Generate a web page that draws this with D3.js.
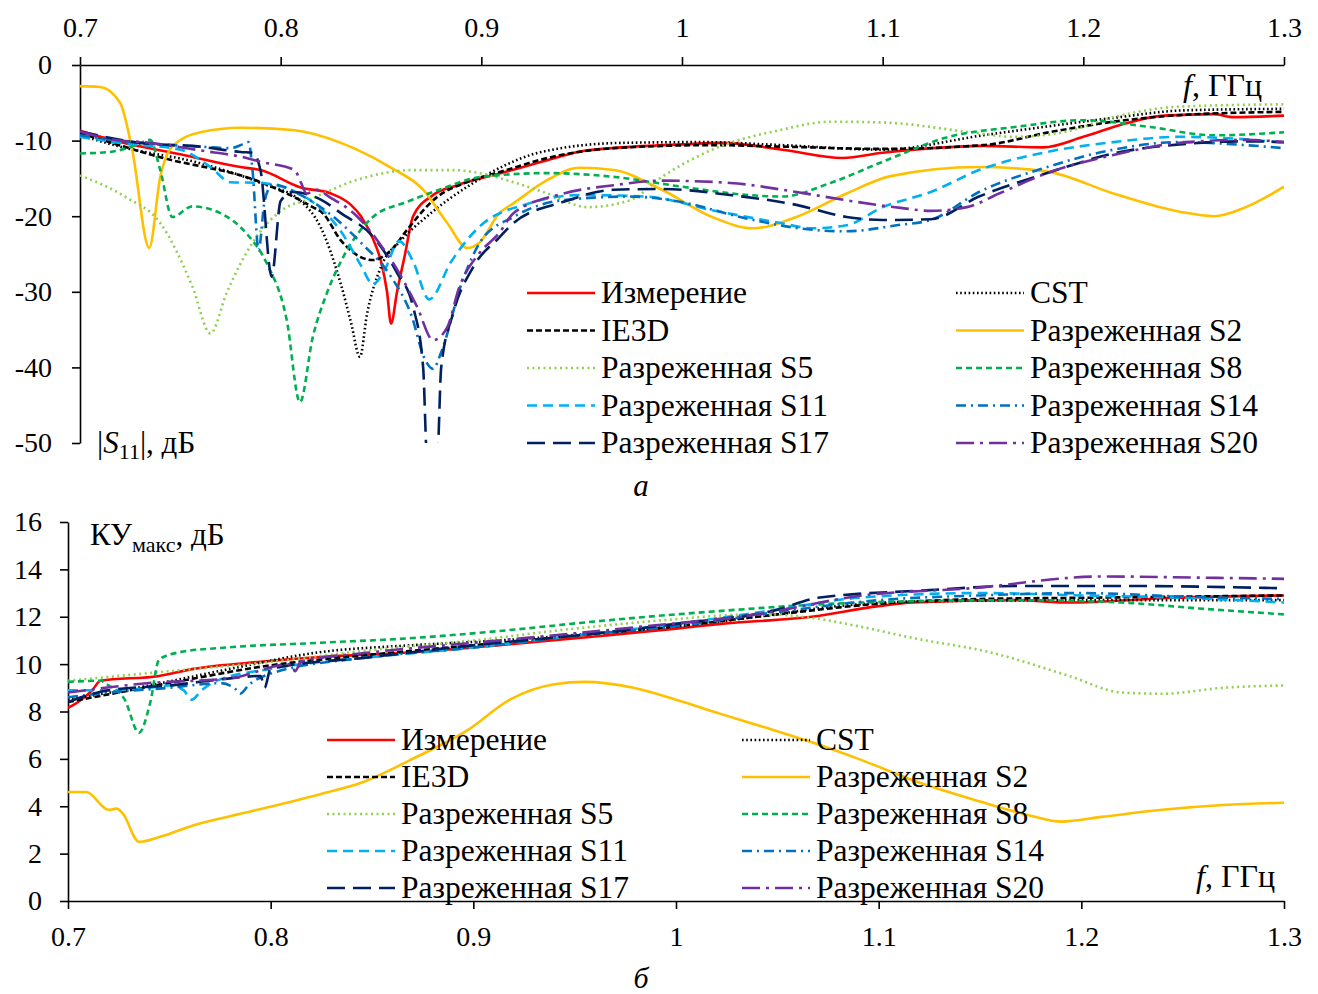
<!DOCTYPE html>
<html>
<head>
<meta charset="utf-8">
<script src="https://cdn.jsdelivr.net/npm/d3@7"></script>
<style>
  body { margin: 0; background: #fff; }
  text { font-family: "Liberation Serif", "Times New Roman", serif; fill: #000; }
</style>
</head>
<body>
<svg id="chart" width="1318" height="994"></svg>
<script>
// frequency ticks and value ticks
var freqTicks = [0.7, 0.8, 0.9, 1.0, 1.1, 1.2, 1.3];
var s11Ticks = [0, -10, -20, -30, -40, -50];
var gainTicks = [0, 2, 4, 6, 8, 10, 12, 14, 16];

var seriesNames = ["Измерение", "CST", "IE3D", "Разреженная S2", "Разреженная S5",
  "Разреженная S8", "Разреженная S11", "Разреженная S14", "Разреженная S17", "Разреженная S20"];
var seriesColors = ["#ff0000", "#000000", "#000000", "#ffc000", "#92d050",
  "#00b050", "#00b0f0", "#0070c0", "#002060", "#7030a0"];
var seriesDash = [null, "1.6,2.6", "6,3", null, "2,3.5",
  "6,4", "10,6", "10,5,2,5", "18,8", "18,6,3,6"];

// |S11|, dB  ([f GHz, value])
var s11Izm = [[0.7,-8.7],[0.72,-10.2],[0.75,-11.8],[0.78,-13.5],[0.79,-13.9],[0.81,-16.2],[0.825,-17],[0.835,-18.5],[0.84,-20],[0.846,-23],[0.85,-26],[0.853,-30],[0.855,-34.2],[0.858,-30],[0.862,-25],[0.866,-20],[0.876,-17.2],[0.888,-15.9],[0.91,-14.3],[0.93,-12.8],[0.95,-11.4],[0.97,-10.9],[1.0,-10.5],[1.02,-10.3],[1.05,-11.2],[1.08,-12.3],[1.1,-11.6],[1.12,-11.1],[1.15,-10.7],[1.18,-10.9],[1.2,-9.5],[1.22,-7.8],[1.24,-6.7],[1.265,-6.5],[1.275,-6.9],[1.3,-6.7]];
var s11Cst = [[0.7,-9.3],[0.72,-10.8],[0.76,-13],[0.79,-15.6],[0.81,-18],[0.82,-21.5],[0.83,-29],[0.835,-34],[0.8395,-38.6],[0.843,-33],[0.85,-26.7],[0.86,-23.2],[0.873,-20],[0.896,-15.6],[0.91,-13.5],[0.93,-11.5],[0.97,-10.3],[1.01,-10.2],[1.05,-10.6],[1.1,-11.2],[1.15,-9.3],[1.18,-8.2],[1.215,-7],[1.25,-6],[1.3,-5.8]];
var s11Ie3d = [[0.7,-9],[0.74,-12.2],[0.79,-15.5],[0.816,-18.8],[0.821,-19.6],[0.83,-23.2],[0.846,-25.8],[0.855,-24.5],[0.863,-21.8],[0.876,-17.9],[0.896,-15.2],[0.91,-14.1],[0.933,-12.3],[0.966,-11],[1.015,-10.6],[1.05,-10.8],[1.1,-11.1],[1.15,-10.6],[1.183,-8.9],[1.215,-7.5],[1.25,-6.6],[1.3,-6.2]];
var s11S2 = [[0.7,-2.8],[0.71,-2.9],[0.72,-5],[0.726,-11.2],[0.7345,-24.2],[0.74,-14.8],[0.746,-10.8],[0.76,-8.9],[0.78,-8.3],[0.806,-8.6],[0.83,-10.3],[0.838,-11.2],[0.8545,-13.5],[0.871,-16.5],[0.883,-20.9],[0.893,-24.2],[0.899,-23.5],[0.909,-19.6],[0.916,-18.3],[0.933,-15.2],[0.949,-13.6],[0.966,-13.9],[0.99,-16.5],[1.015,-20.1],[1.035,-21.6],[1.057,-20.1],[1.082,-17],[1.104,-14.7],[1.148,-13.5],[1.182,-14.1],[1.215,-17],[1.248,-19.4],[1.265,-20],[1.281,-18.8],[1.3,-16.1]];
var s11S5 = [[0.7,-14.6],[0.723,-17.5],[0.74,-20.9],[0.756,-29.3],[0.765,-35.5],[0.773,-30.2],[0.786,-23.5],[0.803,-18.8],[0.813,-17.9],[0.838,-15.2],[0.8655,-13.9],[0.886,-13.9],[0.899,-14.3],[0.916,-15.5],[0.933,-17],[0.953,-18.8],[0.974,-17.9],[0.99,-14.8],[1.015,-11.2],[1.049,-8.6],[1.074,-7.5],[1.1,-7.6],[1.144,-8.9],[1.165,-9.5],[1.19,-8.9],[1.215,-6.9],[1.248,-5.5],[1.3,-5.2]];
var s11S8 = [[0.7,-11.7],[0.715,-11.5],[0.728,-10.6],[0.7349,-9.9],[0.74,-13.9],[0.746,-20.1],[0.756,-18.7],[0.77,-19.6],[0.783,-22.3],[0.793,-26.2],[0.803,-33.7],[0.8096,-44.6],[0.816,-36],[0.823,-30.2],[0.83,-26],[0.846,-20.1],[0.863,-18.1],[0.879,-16.5],[0.9,-14.8],[0.933,-14.3],[0.966,-14.8],[1.0,-16.1],[1.033,-17.2],[1.05,-17.4],[1.074,-15.6],[1.1,-12.8],[1.133,-9.5],[1.166,-8.2],[1.2,-7.3],[1.233,-8.2],[1.265,-9.3],[1.3,-8.9]];
var s11S11 = [[0.7,-9.5],[0.72,-10.3],[0.75,-11.2],[0.765,-13.5],[0.775,-15.5],[0.79,-15.6],[0.805,-16.5],[0.82,-19],[0.83,-22],[0.84,-26.5],[0.846,-29],[0.852,-27],[0.859,-23.3],[0.866,-26],[0.874,-31],[0.885,-26],[0.899,-21.4],[0.924,-18.3],[0.949,-17.2],[0.982,-17.4],[1.015,-19.2],[1.049,-20.9],[1.065,-21.6],[1.082,-21.2],[1.1,-18.8],[1.124,-16.8],[1.148,-13.9],[1.182,-11.5],[1.215,-10.2],[1.248,-9.5],[1.273,-9.7],[1.3,-10.3]];
var s11S14 = [[0.7,-9.3],[0.73,-10.3],[0.76,-10.8],[0.775,-11],[0.781,-10.5],[0.784,-10.2],[0.786,-14],[0.789,-24.5],[0.792,-18],[0.796,-15.8],[0.81,-17.2],[0.825,-19.8],[0.84,-23.5],[0.855,-28],[0.865,-33],[0.872,-39],[0.876,-40.2],[0.88,-38],[0.89,-29],[0.9,-23.2],[0.916,-20.1],[0.94,-17.9],[0.974,-17.4],[0.999,-18.1],[1.032,-20.3],[1.065,-21.8],[1.082,-22],[1.107,-21.2],[1.124,-20.5],[1.148,-16.8],[1.182,-13.5],[1.215,-11.2],[1.248,-10.2],[1.281,-10.6],[1.3,-11]];
var s11S17 = [[0.7,-8.8],[0.73,-10.3],[0.76,-10.8],[0.78,-11.5],[0.786,-11.6],[0.79,-14],[0.7955,-28],[0.8,-18],[0.806,-16.8],[0.82,-17.8],[0.83,-19.6],[0.846,-22.7],[0.858,-27.5],[0.866,-32],[0.871,-40],[0.873,-52],[0.878,-52],[0.88,-40],[0.886,-32.8],[0.896,-26.7],[0.909,-22.8],[0.916,-20.9],[0.941,-18.1],[0.966,-16.5],[0.99,-16.4],[1.024,-17.2],[1.057,-18.5],[1.082,-20.1],[1.1,-20.5],[1.124,-20.4],[1.148,-17.4],[1.182,-14.3],[1.215,-11.7],[1.248,-10.5],[1.281,-10.1],[1.3,-10.2]];
var s11S20 = [[0.7,-8.8],[0.715,-9.8],[0.735,-10.3],[0.76,-11.3],[0.783,-12.3],[0.79,-12.8],[0.807,-13.9],[0.81,-15.5],[0.813,-17],[0.818,-16.5],[0.824,-17.4],[0.838,-20],[0.849,-23.5],[0.859,-27.5],[0.868,-32],[0.876,-36.4],[0.883,-34.7],[0.889,-29.4],[0.899,-24.9],[0.909,-22.2],[0.916,-19.6],[0.941,-17],[0.966,-15.9],[0.99,-15.3],[1.024,-15.6],[1.057,-16.8],[1.082,-17.9],[1.109,-18.9],[1.124,-19.3],[1.142,-18.8],[1.158,-17],[1.182,-14.3],[1.215,-11.9],[1.248,-10.3],[1.281,-9.9],[1.3,-10.2]];

// max gain, dB
var gainIzm = [[0.7,8.15],[0.705,8.4],[0.712,8.9],[0.716,9.3],[0.745,9.5],[0.762,9.8],[0.795,10.1],[0.824,10.3],[0.87,10.5],[0.913,10.8],[0.964,11.2],[1.0,11.5],[1.022,11.7],[1.067,12.0],[1.1,12.45],[1.117,12.6],[1.169,12.7],[1.194,12.6],[1.246,12.8],[1.3,12.9]];
var gainCst = [[0.7,8.5],[0.74,9.1],[0.78,9.8],[0.824,10.5],[0.87,10.8],[0.913,11.0],[0.96,11.3],[1.0,11.6],[1.04,12.0],[1.08,12.45],[1.12,12.65],[1.2,12.7],[1.3,12.7]];
var gainIe3d = [[0.7,8.4],[0.75,9.2],[0.8,9.95],[0.85,10.4],[0.9,10.8],[0.95,11.2],[1.0,11.6],[1.05,12.1],[1.1,12.55],[1.15,12.75],[1.2,12.8],[1.25,12.85],[1.3,12.9]];
var gainS2 = [[0.7,4.6],[0.709,4.6],[0.72,3.85],[0.724,3.9],[0.727,3.7],[0.735,2.5],[0.745,2.7],[0.762,3.2],[0.786,3.7],[0.824,4.5],[0.845,5.0],[0.87,6.0],[0.897,7.2],[0.918,8.5],[0.94,9.15],[0.955,9.25],[0.979,9.0],[1.0,8.5],[1.022,7.9],[1.045,7.3],[1.067,6.7],[1.09,6.0],[1.12,5.0],[1.15,4.2],[1.175,3.6],[1.19,3.35],[1.21,3.55],[1.24,3.85],[1.27,4.05],[1.3,4.15]];
var gainS5 = [[0.7,9.3],[0.75,9.7],[0.8,10.1],[0.85,10.6],[0.9,11.0],[0.95,11.5],[1.0,11.9],[1.022,12.05],[1.045,12.1],[1.067,11.95],[1.09,11.6],[1.117,11.1],[1.155,10.5],[1.194,9.5],[1.22,8.8],[1.24,8.75],[1.27,9.0],[1.3,9.1]];
var gainS8 = [[0.7,9.25],[0.716,9.3],[0.72,9.1],[0.728,8.5],[0.735,7.1],[0.7405,8.35],[0.745,10.2],[0.755,10.5],[0.778,10.7],[0.824,10.9],[0.87,11.1],[0.913,11.4],[0.96,11.8],[1.015,12.2],[1.092,12.6],[1.169,12.7],[1.22,12.6],[1.258,12.35],[1.3,12.1]];
var gainS11 = [[0.7,8.9],[0.72,8.9],[0.74,9.0],[0.75,9.1],[0.757,8.9],[0.761,8.5],[0.766,8.9],[0.772,9.25],[0.8,9.8],[0.85,10.3],[0.9,10.7],[0.95,11.2],[1.0,11.7],[1.05,12.3],[1.09,12.8],[1.15,13.0],[1.2,12.9],[1.25,12.8],[1.3,12.6]];
var gainS14 = [[0.7,8.6],[0.72,8.8],[0.75,9.0],[0.775,9.2],[0.782,9.0],[0.785,8.75],[0.789,9.1],[0.8,9.6],[0.85,10.3],[0.9,10.7],[0.95,11.2],[1.0,11.6],[1.05,12.2],[1.1,12.7],[1.15,12.9],[1.2,13.0],[1.25,12.85],[1.3,12.75]];
var gainS17 = [[0.7,8.4],[0.72,8.9],[0.75,9.1],[0.78,9.4],[0.795,9.5],[0.797,9.0],[0.8,9.8],[0.85,10.3],[0.9,10.8],[0.95,11.2],[1.0,11.7],[1.05,12.3],[1.07,12.8],[1.12,13.1],[1.17,13.3],[1.22,13.3],[1.3,13.2]];
var gainS20 = [[0.7,8.8],[0.74,9.2],[0.78,9.4],[0.81,10.0],[0.812,9.7],[0.815,10.1],[0.85,10.5],[0.9,10.9],[0.95,11.3],[0.985,11.6],[1.04,12.1],[1.092,12.9],[1.145,13.2],[1.21,13.7],[1.26,13.65],[1.3,13.6]];

var s11Series = [s11Izm, s11Cst, s11Ie3d, s11S2, s11S5, s11S8, s11S11, s11S14, s11S17, s11S20];
var gainSeries = [gainIzm, gainCst, gainIe3d, gainS2, gainS5, gainS8, gainS11, gainS14, gainS17, gainS20];

var svg = d3.select("#chart");
var fmt = function(d) { return String(d); };

function styleAxis(g) {
  g.selectAll("path, line").attr("stroke", "#000").attr("stroke-width", 1.6);
  g.selectAll("text").style("font-size", "28px").attr("fill", "#000");
}

function drawLines(g, list, x, y, clipId) {
  var line = d3.line()
    .x(function(d) { return x(d[0]); })
    .y(function(d) { return y(d[1]); })
    .curve(d3.curveMonotoneX);
  g.append("g").attr("clip-path", "url(#" + clipId + ")")
    .selectAll("path")
    .data(list)
    .enter().append("path")
      .attr("d", line)
      .attr("fill", "none")
      .attr("stroke", function(d, i) { return seriesColors[i]; })
      .attr("stroke-width", 2.6)
      .attr("stroke-dasharray", function(d, i) { return seriesDash[i]; });
}

function drawLegend(g, colX, rowY, rowStep) {
  seriesNames.forEach(function(name, i) {
    var cx = colX[i % 2], cy = rowY + Math.floor(i / 2) * rowStep;
    g.append("line")
      .attr("x1", cx).attr("x2", cx + 68).attr("y1", cy).attr("y2", cy)
      .attr("stroke", seriesColors[i]).attr("stroke-width", 2.6)
      .attr("stroke-dasharray", seriesDash[i]);
    g.append("text")
      .attr("x", cx + 74).attr("y", cy + 10)
      .style("font-size", "31.5px")
      .text(name);
  });
}

var defs = svg.append("defs");

// ---------- top chart: |S11| ----------
var x1 = d3.scaleLinear().domain([0.7, 1.3]).range([80, 1284]);
var y1 = d3.scaleLinear().domain([-50, 0]).range([443, 65]);
defs.append("clipPath").attr("id", "clipTop").append("rect")
  .attr("x", 80).attr("y", 65).attr("width", 1204).attr("height", 378);

var gTop = svg.append("g");
gTop.append("g").attr("transform", "translate(0,65)")
  .call(d3.axisTop(x1).tickValues(freqTicks).tickSize(8).tickSizeOuter(0).tickPadding(20).tickFormat(fmt))
  .call(styleAxis);
gTop.append("g").attr("transform", "translate(80,0)")
  .call(d3.axisLeft(y1).tickValues(s11Ticks).tickSize(8).tickSizeOuter(0).tickPadding(20).tickFormat(fmt))
  .call(styleAxis);

drawLines(gTop, s11Series, x1, y1, "clipTop");
drawLegend(gTop, [527, 956], 293, 37.5);

gTop.append("text").attr("x", 1262).attr("y", 96).attr("text-anchor", "end").style("font-size", "32px")
  .html('<tspan font-style="italic">f</tspan>, ГГц');
gTop.append("text").attr("x", 97).attr("y", 453).style("font-size", "31px")
  .html('|<tspan font-style="italic">S</tspan><tspan dy="6" style="font-size:22px">11</tspan><tspan dy="-6">|, дБ</tspan>');
svg.append("text").attr("x", 641).attr("y", 496).attr("text-anchor", "middle")
  .style("font-size", "31px").style("font-style", "italic").text("а");

// ---------- bottom chart: max gain ----------
var x2 = d3.scaleLinear().domain([0.7, 1.3]).range([68, 1284]);
var y2 = d3.scaleLinear().domain([0, 16]).range([901, 522]);
defs.append("clipPath").attr("id", "clipBottom").append("rect")
  .attr("x", 68).attr("y", 522).attr("width", 1216).attr("height", 379);

var gBot = svg.append("g");
gBot.append("g").attr("transform", "translate(0,901)")
  .call(d3.axisBottom(x2).tickValues(freqTicks).tickSize(8).tickSizeOuter(0).tickPadding(17).tickFormat(fmt))
  .call(styleAxis);
gBot.append("g").attr("transform", "translate(68,0)")
  .call(d3.axisLeft(y2).tickValues(gainTicks).tickSize(8).tickSizeOuter(0).tickPadding(18).tickFormat(fmt))
  .call(styleAxis);

drawLines(gBot, gainSeries, x2, y2, "clipBottom");
drawLegend(gBot, [327, 742], 740, 37);

gBot.append("text").attr("x", 1275).attr("y", 887).attr("text-anchor", "end").style("font-size", "32px")
  .html('<tspan font-style="italic">f</tspan>, ГГц');
gBot.append("text").attr("x", 90).attr("y", 545).style("font-size", "31px")
  .html('КУ<tspan dy="7" style="font-size:22px">макс</tspan><tspan dy="-7">, дБ</tspan>');
svg.append("text").attr("x", 641).attr("y", 988).attr("text-anchor", "middle")
  .style("font-size", "30px").style("font-style", "italic").text("б");
</script>
</body>
</html>
